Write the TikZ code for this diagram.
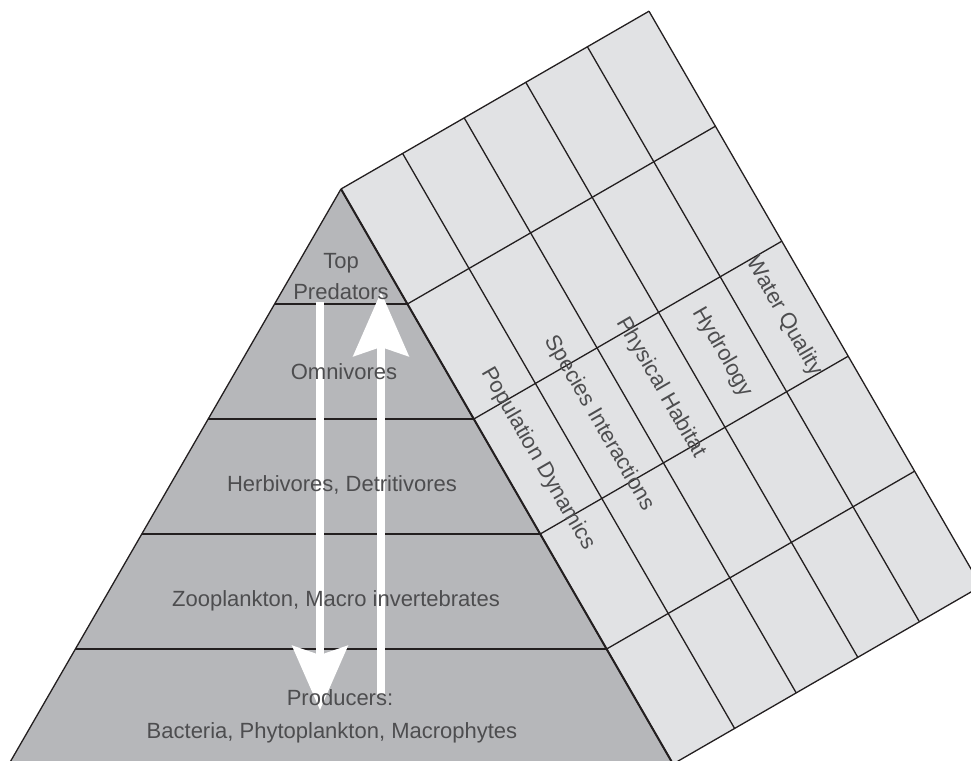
\documentclass[tikz,border=0pt]{standalone}
\usepackage{fontspec}
\setmainfont{Liberation Sans}
\usetikzlibrary{calc, arrows.meta}
\definecolor{inkLine}{RGB}{35,31,32}
\definecolor{inkText}{RGB}{77,77,79}
\definecolor{pyrFill}{RGB}{182,183,186}
\definecolor{gridFill}{RGB}{225,226,228}
\tikzstyle{layerText} = [text=inkText, font=\fontsize{22}{31}\selectfont, align=center, anchor=base, inner sep=0pt]
\tikzstyle{colText} = [text=inkText, font=\fontsize{22}{26}\selectfont, rotate=-60, inner sep=0pt]
\tikzstyle{gridLine} = [draw=inkLine, line width=1.3pt]
\tikzstyle{flowArrow} = [draw=white, line width=8pt, -{Stealth[length=64pt, width=55pt, inset=9pt]}]

\begin{document}
\begin{tikzpicture}[x=1pt, y=-1pt]
    \useasboundingbox (0,0) rectangle (971,760);
    \clip (0,0) rectangle (971,760);
    \coordinate (apex) at (341,189);
    \coordinate (u) at (61.6,-35.56);  % one column across the panel
    \coordinate (v) at (66.4,115);     % one layer down the slope
    \coordinate (baseL) at (9,764);
    \coordinate (baseR) at ($(apex)+5*(v)$);

    % pyramid and panel
    \fill[pyrFill] (apex) -- (baseR) -- (baseL) -- cycle;
    \fill[gridFill] (apex) -- ($(apex)+5*(u)$) -- ($(apex)+5*(u)+5*(v)$) -- (baseR) -- cycle;
    \foreach \i in {0,...,5} {
        \draw[gridLine] ($(apex)+\i*(v)$) -- ($(apex)+\i*(v)+5*(u)$);
        \draw[gridLine] ($(apex)+\i*(u)$) -- ($(apex)+\i*(u)+5*(v)$);
    }
    \foreach \i in {1,...,4}
        \draw[gridLine] ($(apex)+\i*(v)$) -- ($(apex)+\i*(v)-\i*(132.8,0)$);
    \draw[gridLine] (baseL) -- (apex);
    \draw[gridLine, line width=2pt] (apex) -- (baseR);

    % energy flow
    \coordinate (downStart) at (320,302);
    \coordinate (downTip) at (320,710);
    \coordinate (upStart) at (381,695);
    \coordinate (upTip) at (381,292);
    \draw[flowArrow] (downStart) -- (downTip);
    \draw[flowArrow] (upStart) -- (upTip);

    % trophic levels
    \node[layerText] (top) at (341,299) {Top\\Predators};
    \node[layerText] (omni) at (344,379) {Omnivores};
    \node[layerText] (herb) at (342,491) {Herbivores, Detritivores};
    \node[layerText] (zoo) at (336,606) {Zooplankton, Macro invertebrates};
    \node[layerText] (prod) at (332,738) {\hspace*{16pt}Producers:\\[2pt]Bacteria, Phytoplankton, Macrophytes};

    % stressor columns
    \foreach \name [count=\j from 0] in {Population Dynamics, Species Interactions, Physical Habitat, Hydrology, Water Quality}
        \node[colText] (col\j) at ($(apex)+2.5*(v)+\j*(u)+0.5*(u)$) {\name};
\end{tikzpicture}
\end{document}
